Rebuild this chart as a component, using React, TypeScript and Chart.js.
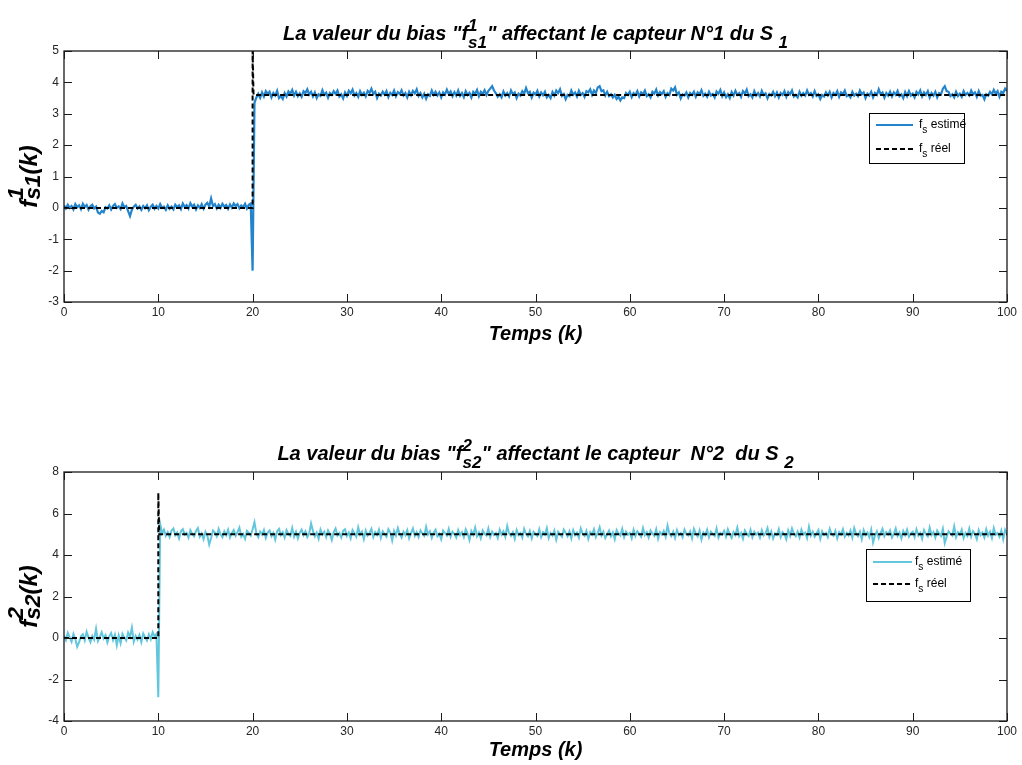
import React, { useEffect, useRef } from 'react';
import { Chart, registerables } from 'chart.js';

Chart.register(...registerables);

// ---------- DATA ----------
const STEP = 0.2; // sampling period of the estimate series (k units)

const xTickValues = [0, 10, 20, 30, 40, 50, 60, 70, 80, 90, 100];
const y1TickValues = [-3, -2, -1, 0, 1, 2, 3, 4, 5];
const y2TickValues = [-4, -2, 0, 2, 4, 6, 8];

// Estimated bias, sensor 1 (k = 0 .. 19.8)
const est1Before = [
  0.08, -0.02, 0.10, 0.00, 0.06, -0.05, 0.12, 0.02, 0.08, -0.04, 0.13, 0.03, 0.09, -0.06, 0.05, 0.10, -0.02, 0.04, -0.15, -0.19,
  -0.10, -0.14, 0.02, -0.02, 0.08, -0.05, 0.06, 0.12, 0.00, 0.05, -0.04, 0.14, 0.02, 0.06, -0.10, -0.26, -0.06, 0.04, 0.10, -0.02,
  0.05, -0.06, 0.06, -0.01, 0.08, -0.07, 0.04, 0.10, -0.03, 0.06, -0.02, 0.12, 0.00, 0.04, -0.06, 0.08, -0.03, 0.04, -0.05, 0.10,
  0.02, 0.08, -0.04, 0.14, 0.03, 0.09, -0.02, 0.15, 0.04, 0.10, -0.05, 0.08, 0.00, 0.12, -0.03, 0.10, 0.16, 0.04, 0.30, 0.06,
  0.12, -0.02, 0.10, 0.00, 0.13, 0.04, 0.09, -0.03, 0.11, 0.01, 0.14, 0.06, 0.12, -0.01, 0.08, 0.02, 0.13, -0.02, 0.10, 0.14,
];
// Estimated bias, sensor 1 (k = 20 .. 100)
const est1After = [
  -2.00, 3.35, 3.52, 3.64, 3.51, 3.68, 3.55, 3.72, 3.63, 3.70, 3.52, 3.66, 3.58, 3.73, 3.50, 3.56, 3.47, 3.66, 3.55, 3.71,
  3.64, 3.76, 3.58, 3.70, 3.56, 3.65, 3.54, 3.72, 3.66, 3.78, 3.61, 3.70, 3.55, 3.68, 3.50, 3.62, 3.57, 3.75, 3.60, 3.67,
  3.51, 3.66, 3.60, 3.72, 3.63, 3.74, 3.55, 3.62, 3.49, 3.68, 3.57, 3.73, 3.65, 3.77, 3.58, 3.66, 3.54, 3.72, 3.60, 3.67,
  3.55, 3.73, 3.66, 3.80, 3.63, 3.70, 3.50, 3.64, 3.58, 3.70, 3.61, 3.72, 3.53, 3.67, 3.60, 3.74, 3.56, 3.69, 3.63, 3.75,
  3.58, 3.66, 3.52, 3.70, 3.59, 3.73, 3.65, 3.78, 3.57, 3.66, 3.52, 3.64, 3.48, 3.62, 3.57, 3.74, 3.60, 3.70, 3.58, 3.68,
  3.52, 3.68, 3.61, 3.77, 3.63, 3.71, 3.56, 3.69, 3.58, 3.74, 3.57, 3.66, 3.53, 3.72, 3.60, 3.67, 3.52, 3.70, 3.64, 3.76,
  3.56, 3.70, 3.63, 3.75, 3.60, 3.73, 3.80, 3.88, 3.74, 3.65, 3.54, 3.62, 3.52, 3.71, 3.58, 3.66, 3.55, 3.74, 3.62, 3.68,
  3.50, 3.64, 3.58, 3.72, 3.64, 3.82, 3.66, 3.70, 3.52, 3.67, 3.61, 3.73, 3.55, 3.68, 3.59, 3.70, 3.52, 3.60, 3.50, 3.69,
  3.58, 3.74, 3.66, 3.78, 3.57, 3.63, 3.46, 3.60, 3.56, 3.74, 3.61, 3.68, 3.55, 3.73, 3.60, 3.66, 3.54, 3.72, 3.68, 3.78,
  3.60, 3.74, 3.66, 3.84, 3.88, 3.72, 3.75, 3.58, 3.70, 3.56, 3.62, 3.52, 3.60, 3.47, 3.54, 3.42, 3.52, 3.50, 3.66, 3.60,
  3.70, 3.53, 3.66, 3.60, 3.72, 3.55, 3.68, 3.62, 3.74, 3.56, 3.62, 3.52, 3.70, 3.64, 3.77, 3.58, 3.69, 3.63, 3.72, 3.54,
  3.66, 3.60, 3.80, 3.74, 3.84, 3.61, 3.68, 3.49, 3.62, 3.58, 3.68, 3.52, 3.66, 3.60, 3.70, 3.54, 3.68, 3.62, 3.75, 3.57,
  3.64, 3.54, 3.70, 3.58, 3.63, 3.52, 3.71, 3.64, 3.76, 3.56, 3.68, 3.53, 3.62, 3.50, 3.69, 3.58, 3.73, 3.60, 3.66, 3.54,
  3.72, 3.64, 3.77, 3.56, 3.62, 3.52, 3.72, 3.58, 3.66, 3.55, 3.73, 3.60, 3.65, 3.49, 3.63, 3.58, 3.70, 3.56, 3.68, 3.52,
  3.66, 3.60, 3.72, 3.54, 3.69, 3.62, 3.74, 3.55, 3.60, 3.52, 3.70, 3.57, 3.66, 3.58, 3.74, 3.60, 3.66, 3.55, 3.72, 3.57,
  3.62, 3.47, 3.60, 3.55, 3.68, 3.58, 3.70, 3.52, 3.66, 3.60, 3.72, 3.54, 3.68, 3.62, 3.74, 3.56, 3.60, 3.52, 3.70, 3.58,
  3.64, 3.56, 3.74, 3.62, 3.68, 3.50, 3.64, 3.58, 3.70, 3.52, 3.66, 3.60, 3.78, 3.62, 3.68, 3.51, 3.66, 3.58, 3.70, 3.55,
  3.68, 3.60, 3.73, 3.56, 3.62, 3.50, 3.69, 3.56, 3.72, 3.58, 3.64, 3.52, 3.70, 3.62, 3.74, 3.55, 3.68, 3.60, 3.72, 3.52,
  3.66, 3.58, 3.70, 3.52, 3.66, 3.62, 3.80, 3.88, 3.72, 3.70, 3.56, 3.62, 3.52, 3.70, 3.57, 3.64, 3.54, 3.72, 3.60, 3.66,
  3.58, 3.74, 3.62, 3.68, 3.54, 3.72, 3.58, 3.60, 3.46, 3.62, 3.58, 3.70, 3.62, 3.76, 3.64, 3.72, 3.54, 3.70, 3.66, 3.80,
  3.72,
];
// Real bias, sensor 1
const ref1X = [0, 20, 20, 20.1, 100];
const ref1Y = [0, 0, 5, 3.6, 3.6];

// Estimated bias, sensor 2 (k = 0 .. 9.8)
const est2Before = [
  0.12, -0.10, 0.25, 0.04, -0.18, 0.20, -0.05, -0.42, -0.20, 0.08,
  0.18, -0.12, 0.30, 0.02, -0.20, 0.10, -0.08, 0.45, -0.15, 0.05,
  0.28, -0.02, 0.14, -0.22, 0.08, 0.24, -0.10, 0.16, -0.35, 0.12,
  -0.25, 0.20, 0.02, -0.12, 0.26, 0.06, 0.50, -0.18, 0.10, -0.08,
  0.15, -0.20, 0.22, 0.04, -0.12, 0.18, -0.06, 0.28, 0.08, 0.20,
];
// Estimated bias, sensor 2 (k = 10 .. 100)
const est2After = [
  -2.85, 5.50, 5.05, 5.22, 4.92, 5.10, 4.86, 5.18, 5.28, 4.95, 5.08, 4.80, 5.14, 5.24, 4.98, 5.06, 4.84, 5.20, 5.02, 4.90,
  5.16, 5.30, 4.88, 5.04, 4.76, 5.12, 4.94, 4.50, 4.82, 5.18, 5.08, 4.90, 5.26, 5.00, 4.86, 5.14, 4.96, 5.22, 4.84, 5.06,
  5.20, 4.92, 5.10, 5.32, 4.88, 5.02, 4.78, 5.16, 5.06, 4.94, 5.24, 5.58, 5.04, 4.86, 5.12, 4.98, 5.20, 4.82, 5.08, 5.18,
  4.90, 5.06, 4.74, 5.14, 5.26, 4.96, 5.10, 4.84, 5.20, 5.02, 4.92, 5.30, 4.88, 5.12, 4.80, 5.06, 5.22, 4.96, 5.14, 4.86,
  5.04, 5.52, 5.16, 4.90, 5.08, 4.78, 5.22, 4.98, 5.12, 4.86, 5.18, 5.00, 4.72, 5.10, 5.28, 4.94, 5.06, 4.84, 5.16, 5.24,
  4.92, 5.08, 4.80, 5.20, 5.04, 4.88, 5.34, 4.98, 5.12, 4.76, 5.18, 4.94, 5.06, 5.26, 4.86, 5.10, 4.96, 5.22, 4.82, 5.14,
  5.00, 4.88, 5.24, 5.08, 4.70, 5.16, 4.94, 5.30, 5.02, 4.84, 5.12, 4.96, 5.20, 4.80, 5.06, 5.28, 4.92, 5.10, 4.86, 5.18,
  5.04, 4.92, 5.36, 4.98, 5.14, 4.82, 5.08, 5.22, 4.90, 5.02, 4.76, 5.18, 5.06, 4.94, 5.26, 4.88, 5.12, 5.00, 4.84, 5.20,
  4.96, 5.10, 4.86, 5.24, 5.04, 4.72, 5.16, 4.98, 5.32, 4.90, 5.08, 4.80, 5.18, 5.02, 4.94, 5.28, 4.86, 5.12, 4.96, 5.06,
  4.82, 5.22, 4.98, 5.14, 4.88, 5.40, 5.04, 4.92, 5.10, 4.78, 5.20, 4.96, 5.06, 4.84, 5.26, 5.00, 4.90, 5.16, 4.80, 5.12,
  5.02, 4.92, 5.24, 4.86, 5.10, 4.98, 5.30, 4.82, 5.06, 4.94, 5.18, 4.74, 5.12, 5.00, 4.88, 5.22, 5.06, 4.90, 5.14, 4.80,
  5.20, 4.96, 5.08, 4.84, 5.28, 5.02, 4.92, 5.16, 4.78, 5.10, 4.98, 5.24, 4.86, 5.06, 5.34, 4.94, 5.12, 4.82, 5.00, 5.18,
  4.90, 5.08, 4.76, 5.20, 5.04, 4.94, 5.26, 4.86, 5.12, 4.98, 5.06, 4.80, 5.22, 4.92, 5.14, 5.02, 4.88, 5.30, 4.96, 5.10,
  4.84, 5.18, 5.04, 4.92, 5.24, 4.78, 5.10, 4.98, 5.16, 4.88, 5.42, 5.02, 4.90, 5.12, 4.82, 5.20, 4.96, 5.06, 4.86, 5.22,
  5.00, 4.94, 5.14, 4.80, 5.26, 5.04, 4.90, 5.18, 4.74, 5.08, 4.96, 5.22, 4.86, 5.12, 5.02, 4.92, 5.28, 4.84, 5.06, 4.98,
  5.16, 4.88, 5.24, 5.00, 4.82, 5.10, 4.96, 5.32, 4.90, 5.06, 4.78, 5.18, 5.02, 4.92, 5.22, 4.86, 5.12, 4.98, 5.08, 4.84,
  5.20, 4.94, 5.06, 5.30, 4.88, 5.14, 4.80, 5.04, 4.96, 5.24, 4.86, 5.10, 5.00, 4.76, 5.18, 4.92, 5.28, 5.02, 4.90, 5.12,
  4.84, 5.22, 4.98, 5.08, 4.82, 5.36, 4.94, 5.12, 4.88, 5.04, 5.20, 4.78, 5.14, 4.96, 5.06, 4.86, 5.26, 5.00, 4.92, 5.16,
  4.80, 5.10, 4.98, 5.24, 4.88, 5.06, 4.94, 5.18, 4.84, 5.30, 5.02, 4.90, 5.12, 4.76, 5.20, 4.96, 5.08, 4.86, 5.22, 4.60,
  4.94, 5.14, 4.82, 5.06, 5.26, 4.90, 5.10, 4.98, 5.18, 4.84, 5.02, 5.28, 4.92, 5.08, 4.80, 5.16, 4.96, 5.22, 4.88, 5.04,
  5.12, 4.86, 5.24, 4.94, 5.06, 4.78, 5.20, 5.00, 4.90, 5.32, 4.96, 5.10, 4.84, 5.18, 5.04, 4.92, 5.26, 4.58, 4.88, 5.14,
  5.02, 4.94, 5.38, 4.86, 5.10, 4.98, 5.22, 4.82, 5.06, 4.92, 5.28, 4.88, 5.14, 5.00, 4.76, 5.20, 4.96, 5.08, 4.84, 5.24,
  4.94, 5.12, 4.82, 5.30, 4.98, 5.06, 4.88, 5.18, 4.76, 5.22, 5.04,
];
// Real bias, sensor 2
const ref2X = [0, 10, 10, 10.1, 100];
const ref2Y = [0, 0, 7, 5, 5];

// ---------- RICH TEXT ----------
type Seg = { t?: string; sup?: string; sub?: string };
type RichStyle = {
  size: number;
  weight: string;
  subScale: number;
  supRise: number;
  subDrop: number;
  color: string;
};
const FAMILY = '"Liberation Sans", Arial, Helvetica, sans-serif';

function fontOf(weight: string, size: number) {
  return `${weight} ${size}px ${FAMILY}`;
}

function richWidth(ctx: CanvasRenderingContext2D, segs: Seg[], st: RichStyle) {
  let w = 0;
  for (const s of segs) {
    if (s.t) {
      ctx.font = fontOf(st.weight, st.size);
      w += ctx.measureText(s.t).width;
    }
    if (s.sup || s.sub) {
      ctx.font = fontOf(st.weight, st.size * st.subScale);
      const a = s.sup ? ctx.measureText(s.sup).width : 0;
      const b = s.sub ? ctx.measureText(s.sub).width : 0;
      w += Math.max(a, b);
    }
  }
  return w;
}

function drawRich(
  ctx: CanvasRenderingContext2D,
  segs: Seg[],
  x: number,
  y: number,
  st: RichStyle,
  align: 'center' | 'left'
) {
  const total = richWidth(ctx, segs, st);
  let cx = align === 'center' ? x - total / 2 : x;
  ctx.fillStyle = st.color;
  ctx.textAlign = 'left';
  ctx.textBaseline = 'alphabetic';
  for (const s of segs) {
    if (s.t) {
      ctx.font = fontOf(st.weight, st.size);
      ctx.fillText(s.t, cx, y);
      cx += ctx.measureText(s.t).width;
    }
    if (s.sup || s.sub) {
      const sz = st.size * st.subScale;
      ctx.font = fontOf(st.weight, sz);
      let adv = 0;
      if (s.sup) {
        ctx.fillText(s.sup, cx, y - st.size * st.supRise);
        adv = Math.max(adv, ctx.measureText(s.sup).width);
      }
      if (s.sub) {
        ctx.fillText(s.sub, cx, y + st.size * st.subDrop);
        adv = Math.max(adv, ctx.measureText(s.sub).width);
      }
      cx += adv;
    }
  }
}

// ---------- PLUGIN ----------
type Decor = {
  title: Seg[];
  titleY: number;
  yLabel: Seg[];
  yLabelX: number;
  xLabel: string;
  xLabelY: number;
  yTicks: number[];
  legendBox: { x: number; y: number; w: number; h: number };
  legendRows: number[];
  legendLineX: [number, number];
  legendTextX: number;
};

function makeDecor(d: Decor) {
  return {
    id: 'decor',
    afterDraw(chart: any) {
      const ctx: CanvasRenderingContext2D = chart.ctx;
      const { left, right, top, bottom } = chart.chartArea;
      const xs = chart.scales.x;
      const ys = chart.scales.y;
      ctx.save();
      // box
      ctx.strokeStyle = '#1a1a1a';
      ctx.lineWidth = 1.3;
      ctx.strokeRect(left, top, right - left, bottom - top);
      // inward ticks
      const tl = 8;
      ctx.lineWidth = 1;
      ctx.beginPath();
      for (const v of xTickValues) {
        const px = Math.round(xs.getPixelForValue(v)) + 0.5;
        ctx.moveTo(px, bottom);
        ctx.lineTo(px, bottom - tl);
        ctx.moveTo(px, top);
        ctx.lineTo(px, top + tl);
      }
      for (const v of d.yTicks) {
        const py = Math.round(ys.getPixelForValue(v)) + 0.5;
        ctx.moveTo(left, py);
        ctx.lineTo(left + tl, py);
        ctx.moveTo(right, py);
        ctx.lineTo(right - tl, py);
      }
      ctx.stroke();

      // title
      drawRich(ctx, d.title, (left + right) / 2, d.titleY, {
        size: 20, weight: 'italic bold', subScale: 0.85, supRise: 0.45, subDrop: 0.38, color: '#000',
      }, 'center');
      // x label
      drawRich(ctx, [{ t: d.xLabel }], (left + right) / 2, d.xLabelY, {
        size: 20, weight: 'italic bold', subScale: 1, supRise: 0, subDrop: 0, color: '#000',
      }, 'center');
      // y label (rotated)
      ctx.save();
      ctx.translate(d.yLabelX, (top + bottom) / 2);
      ctx.rotate(-Math.PI / 2);
      drawRich(ctx, d.yLabel, 0, 0, {
        size: 24, weight: 'italic bold', subScale: 0.95, supRise: 0.6, subDrop: 0.12, color: '#000',
      }, 'center');
      ctx.restore();

      // legend
      const b = d.legendBox;
      ctx.fillStyle = '#fff';
      ctx.fillRect(b.x, b.y, b.w, b.h);
      ctx.strokeStyle = '#000';
      ctx.lineWidth = 1;
      ctx.strokeRect(b.x + 0.5, b.y + 0.5, b.w, b.h);
      const ds = chart.data.datasets;
      const rowsSegs: Seg[][] = [
        [{ t: 'f', sub: 's' }, { t: ' estimé' }],
        [{ t: 'f', sub: 's' }, { t: ' réel' }],
      ];
      for (let i = 0; i < 2; i++) {
        const yy = d.legendRows[i];
        ctx.beginPath();
        ctx.strokeStyle = ds[i].borderColor;
        ctx.lineWidth = 2;
        ctx.setLineDash(ds[i].borderDash || []);
        ctx.moveTo(d.legendLineX[0], yy);
        ctx.lineTo(d.legendLineX[1], yy);
        ctx.stroke();
        ctx.setLineDash([]);
        drawRich(ctx, rowsSegs[i], d.legendTextX, yy + 3, {
          size: 12, weight: 'normal', subScale: 0.85, supRise: 0, subDrop: 0.45, color: '#000',
        }, 'left');
      }
      ctx.restore();
    },
  };
}

// ---------- CHART ----------
function buildSeries(before: number[], after: number[]) {
  const all = before.concat(after);
  return all.map((y, i) => ({ x: Math.round(i * STEP * 100) / 100, y }));
}

function pairs(xs: number[], ys: number[]) {
  return xs.map((x, i) => ({ x, y: ys[i] }));
}

type PanelProps = {
  height: number;
  est: { x: number; y: number }[];
  refLine: { x: number; y: number }[];
  estColor: string;
  estWidth: number;
  yMin: number;
  yMax: number;
  yStep: number;
  padTop: number;
  xAxisHeight: number;
  decor: Decor;
};

function Panel(p: PanelProps) {
  const canvasRef = useRef<HTMLCanvasElement | null>(null);
  useEffect(() => {
    const canvas = canvasRef.current;
    if (!canvas) return;
    const chart = new Chart(canvas, {
      type: 'line',
      data: {
        datasets: [
          {
            label: 'fs estimé',
            data: p.est,
            borderColor: p.estColor,
            borderWidth: p.estWidth,
            pointRadius: 0,
            tension: 0,
            fill: false,
            order: 1,
          } as any,
          {
            label: 'fs réel',
            data: p.refLine,
            borderColor: '#000000',
            borderWidth: 2,
            borderDash: [5, 3],
            pointRadius: 0,
            tension: 0,
            fill: false,
            order: 0,
          } as any,
        ],
      },
      options: {
        responsive: false,
        animation: false,
        devicePixelRatio: 1,
        layout: { padding: { left: 0, right: 15, top: p.padTop, bottom: 0 } },
        plugins: {
          legend: { display: false },
          tooltip: { enabled: false },
          title: { display: false },
        },
        scales: {
          x: {
            type: 'linear',
            min: 0,
            max: 100,
            grid: { display: false, drawTicks: false },
            border: { display: false },
            ticks: {
              stepSize: 10,
              autoSkip: false,
              maxRotation: 0,
              padding: 3,
              color: '#262626',
              font: { family: FAMILY, size: 12 },
            },
            afterFit: (s: any) => {
              s.height = p.xAxisHeight;
            },
          },
          y: {
            type: 'linear',
            min: p.yMin,
            max: p.yMax,
            grid: { display: false, drawTicks: false },
            border: { display: false },
            ticks: {
              stepSize: p.yStep,
              autoSkip: false,
              padding: 5,
              color: '#262626',
              font: { family: FAMILY, size: 12 },
            },
            afterFit: (s: any) => {
              s.width = 64;
            },
          },
        },
      } as any,
      plugins: [makeDecor(p.decor) as any],
    });
    return () => chart.destroy();
  }, []);
  return (
    <canvas
      ref={canvasRef}
      width={1022}
      height={p.height}
      style={{ display: 'block', width: 1022, height: p.height }}
    />
  );
}

const est1 = buildSeries(est1Before, est1After);
const est2 = buildSeries(est2Before, est2After);
const ref1 = pairs(ref1X, ref1Y);
const ref2 = pairs(ref2X, ref2Y);

export default function App() {
  return (
    <div style={{ position: 'absolute', left: 0, top: 0, width: 1022, height: 765, background: '#fff' }}>
      <Panel
        height={383}
        est={est1}
        refLine={ref1}
        estColor="#2384cc"
        estWidth={2.2}
        yMin={-3}
        yMax={5}
        yStep={1}
        padTop={51}
        xAxisHeight={81}
        decor={{
          title: [
            { t: 'La valeur du bias "f', sup: '1', sub: 's1' },
            { t: '" affectant le capteur N°1 du S ', sub: '1' },
          ],
          titleY: 40,
          yLabel: [{ t: 'f', sup: '1', sub: 's1' }, { t: '(k)' }],
          yLabelX: 37,
          xLabel: 'Temps (k)',
          xLabelY: 340,
          yTicks: y1TickValues,
          legendBox: { x: 869, y: 113, w: 95, h: 50 },
          legendRows: [125, 149],
          legendLineX: [876, 913],
          legendTextX: 919,
        }}
      />
      <Panel
        height={382}
        est={est2}
        refLine={ref2}
        estColor="#62c6dc"
        estWidth={2}
        yMin={-4}
        yMax={8}
        yStep={2}
        padTop={89}
        xAxisHeight={44}
        decor={{
          title: [
            { t: 'La valeur du bias "f', sup: '2', sub: 's2' },
            { t: '" affectant le capteur  N°2  du S ', sub: '2' },
          ],
          titleY: 77,
          yLabel: [{ t: 'f', sup: '2', sub: 's2' }, { t: '(k)' }],
          yLabelX: 37,
          xLabel: 'Temps (k)',
          xLabelY: 373,
          yTicks: y2TickValues,
          legendBox: { x: 866, y: 166, w: 104, h: 52 },
          legendRows: [179, 201],
          legendLineX: [873, 912],
          legendTextX: 915,
        }}
      />
    </div>
  );
}
